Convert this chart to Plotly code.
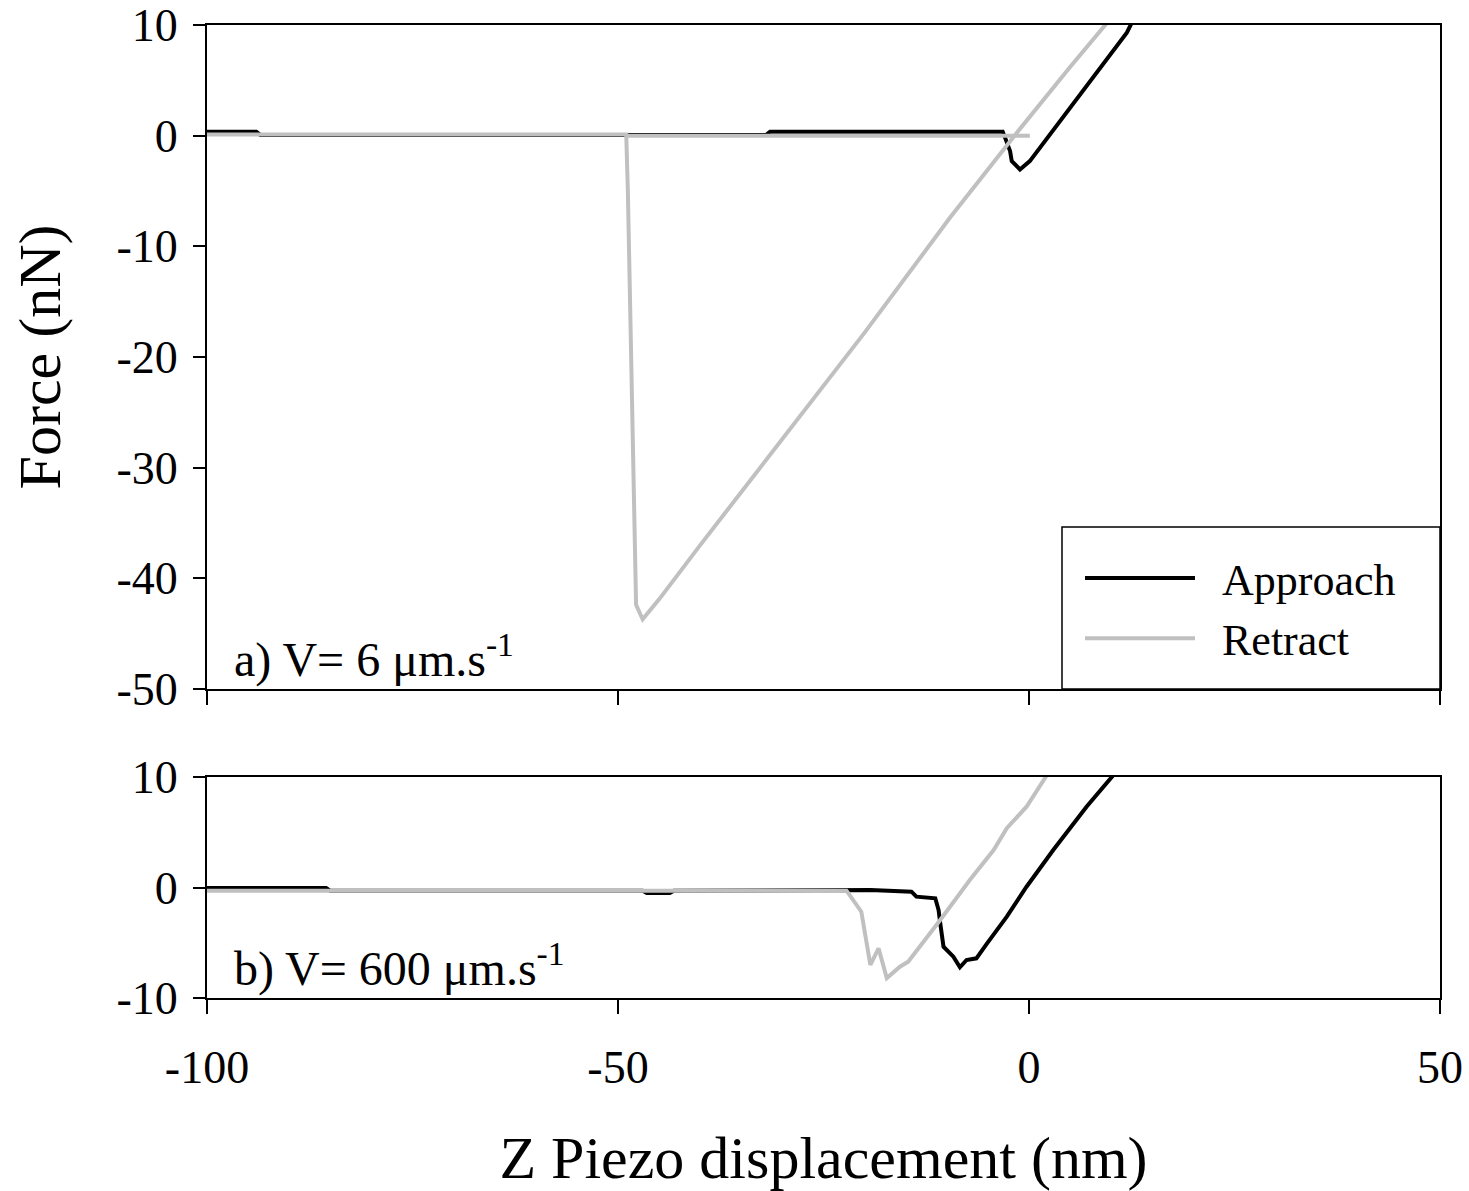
import plotly.graph_objects as go

# ---------------- data ----------------
# panel a) V = 6 um/s
a_approach_x = [-100, -94, -93.5, -32, -31.5, -3.2, -2.9, -2.3, -2.1, -1.1, 0.1, 6.0, 11.9, 12.3, 12.5]
a_approach_f = [0.35, 0.35, 0.05, 0.05, 0.35, 0.35, -0.2, -1.4, -2.3, -3.05, -2.3, 3.5, 9.3, 9.9, 10.2]

a_retract_x = [-100, -49.0, -48.8, -48.3, -47.8, -47.0, -45.0, -40.0, -30.0, -20.0, -9.6, -1.5, 5.0, 9.25, 9.5,
               None, -49.0, 0.1]
a_retract_f = [0.1, 0.1, -5.0, -25.0, -42.4, -43.7, -41.9, -37.0, -27.4, -17.8, -7.4, 0.25, 6.2, 10.0, 10.2,
               None, 0.0, 0.0]

# panel b) V = 600 um/s
b_approach_x = [-100, -85.5, -85, -47, -46.5, -43.7, -43.2, -22, -19.3, -14.3, -13.7, -11.4, -11.0, -10.8,
                -10.4, -9.2, -8.4, -7.6, -6.4, -5.1, -2.7, -0.3, 2.95, 7.0, 10.06, 10.3]
b_approach_f = [-0.05, -0.05, -0.3, -0.3, -0.5, -0.5, -0.3, -0.27, -0.23, -0.38, -0.83, -0.98, -2.04, -3.21,
                -5.36, -6.26, -7.22, -6.56, -6.41, -5.05, -2.64, 0.07, 3.39, 7.31, 9.88, 10.2]

b_retract_x = [-100, -22.2, -20.4, -19.7, -19.3, -18.3, -17.3, -15.7, -14.7, -10.8, -7.2, -4.3, -2.7, -0.3, 1.95, 2.2]
b_retract_f = [-0.3, -0.29, -2.19, -5.05, -7.0, -5.5, -8.2, -7.17, -6.71, -2.94, 0.68, 3.39, 5.36, 7.31, 9.88, 10.2]

x_ticks = [-100, -50, 0, 50]
x_tick_text = ["-100", "-50", "0", "50"]
ya_ticks = [-50, -40, -30, -20, -10, 0, 10]
ya_tick_text = ["-50", "-40", "-30", "-20", "-10", "0", "10"]
yb_ticks = [-10, 0, 10]
yb_tick_text = ["-10", "0", "10"]
panel_labels = ["a) V= 6 \u03bcm.s<sup>-1</sup>", "b) V= 600 \u03bcm.s<sup>-1</sup>"]
series_names = ["Approach", "Retract"]

# ---------------- style ----------------
FONT = "Liberation Serif"
BLACK = "#000000"
GRAY = "#c0c0c0"
LW = 4
PAD = "\u00a0\u00a0"

fig = go.Figure()
fig.add_trace(go.Scatter(x=a_approach_x, y=a_approach_f, mode="lines", name=PAD + series_names[0],
                         line=dict(color=BLACK, width=LW), xaxis="x", yaxis="y"))
fig.add_trace(go.Scatter(x=a_retract_x, y=a_retract_f, mode="lines", name=PAD + series_names[1],
                         line=dict(color=GRAY, width=LW), xaxis="x", yaxis="y"))
fig.add_trace(go.Scatter(x=b_approach_x, y=b_approach_f, mode="lines", name=series_names[0],
                         line=dict(color=BLACK, width=LW), xaxis="x2", yaxis="y2", showlegend=False))
fig.add_trace(go.Scatter(x=b_retract_x, y=b_retract_f, mode="lines", name=series_names[1],
                         line=dict(color=GRAY, width=LW), xaxis="x2", yaxis="y2", showlegend=False))

top_lo = (998 - 689) / 973
bot_hi = (998 - 777) / 973

common_x = dict(range=[-100, 50], tickvals=x_ticks, ticktext=x_tick_text, ticks="outside", ticklen=14,
                tickwidth=2, tickcolor=BLACK, showline=True, linecolor=BLACK, linewidth=2, mirror=True,
                showgrid=False, zeroline=False, automargin=False,
                tickfont=dict(family=FONT, size=46, color=BLACK))
common_y = dict(ticks="outside", ticklen=12, tickwidth=2, tickcolor=BLACK,
                showline=True, linecolor=BLACK, linewidth=2, mirror=True, showgrid=False,
                zeroline=False, automargin=False, tickfont=dict(family=FONT, size=46, color=BLACK),
                ticklabelstandoff=6)

fig.update_layout(
    width=1469, height=1191,
    margin=dict(l=207, r=29, t=25, b=193, autoexpand=False),
    paper_bgcolor="white", plot_bgcolor="white",
    font=dict(family=FONT, color=BLACK),
    xaxis=dict(common_x, domain=[0, 1], anchor="y", showticklabels=False),
    yaxis=dict(common_y, domain=[top_lo, 1], anchor="x", range=[-50, 10],
               tickvals=ya_ticks, ticktext=ya_tick_text,
               title=dict(text="Force (nN)", font=dict(family=FONT, size=60, color=BLACK), standoff=36)),
    xaxis2=dict(common_x, domain=[0, 1], anchor="y2", ticklabelstandoff=14,
                title=dict(text="Z Piezo displacement (nm)", font=dict(family=FONT, size=60, color=BLACK),
                           standoff=50)),
    yaxis2=dict(common_y, domain=[0, bot_hi], anchor="x2", range=[-10, 10],
                tickvals=yb_ticks, ticktext=yb_tick_text),
    legend=dict(x=(1080 - 207) / 1233, xanchor="left", y=(998 - 608.5) / 973, yanchor="middle",
                bgcolor="rgba(0,0,0,0)", borderwidth=0, tracegroupgap=0,
                font=dict(family=FONT, size=44, color=BLACK), itemwidth=110),
    showlegend=True,
    shapes=[dict(type="rect", xref="paper", yref="paper", x0=(1062 - 207) / 1233, x1=1,
                 y0=top_lo, y1=(998 - 527) / 973, line=dict(color=BLACK, width=1.5),
                 fillcolor="white", layer="above")],
)

fig.add_annotation(text=panel_labels[0], xref="x domain", yref="y domain", x=0.02, y=0.0,
                   xanchor="left", yanchor="bottom", showarrow=False,
                   font=dict(family=FONT, size=48, color=BLACK))
fig.add_annotation(text=panel_labels[1], xref="x2 domain", yref="y2 domain", x=0.02, y=0.0,
                   xanchor="left", yanchor="bottom", showarrow=False,
                   font=dict(family=FONT, size=48, color=BLACK))

fig.write_html("out.html")
